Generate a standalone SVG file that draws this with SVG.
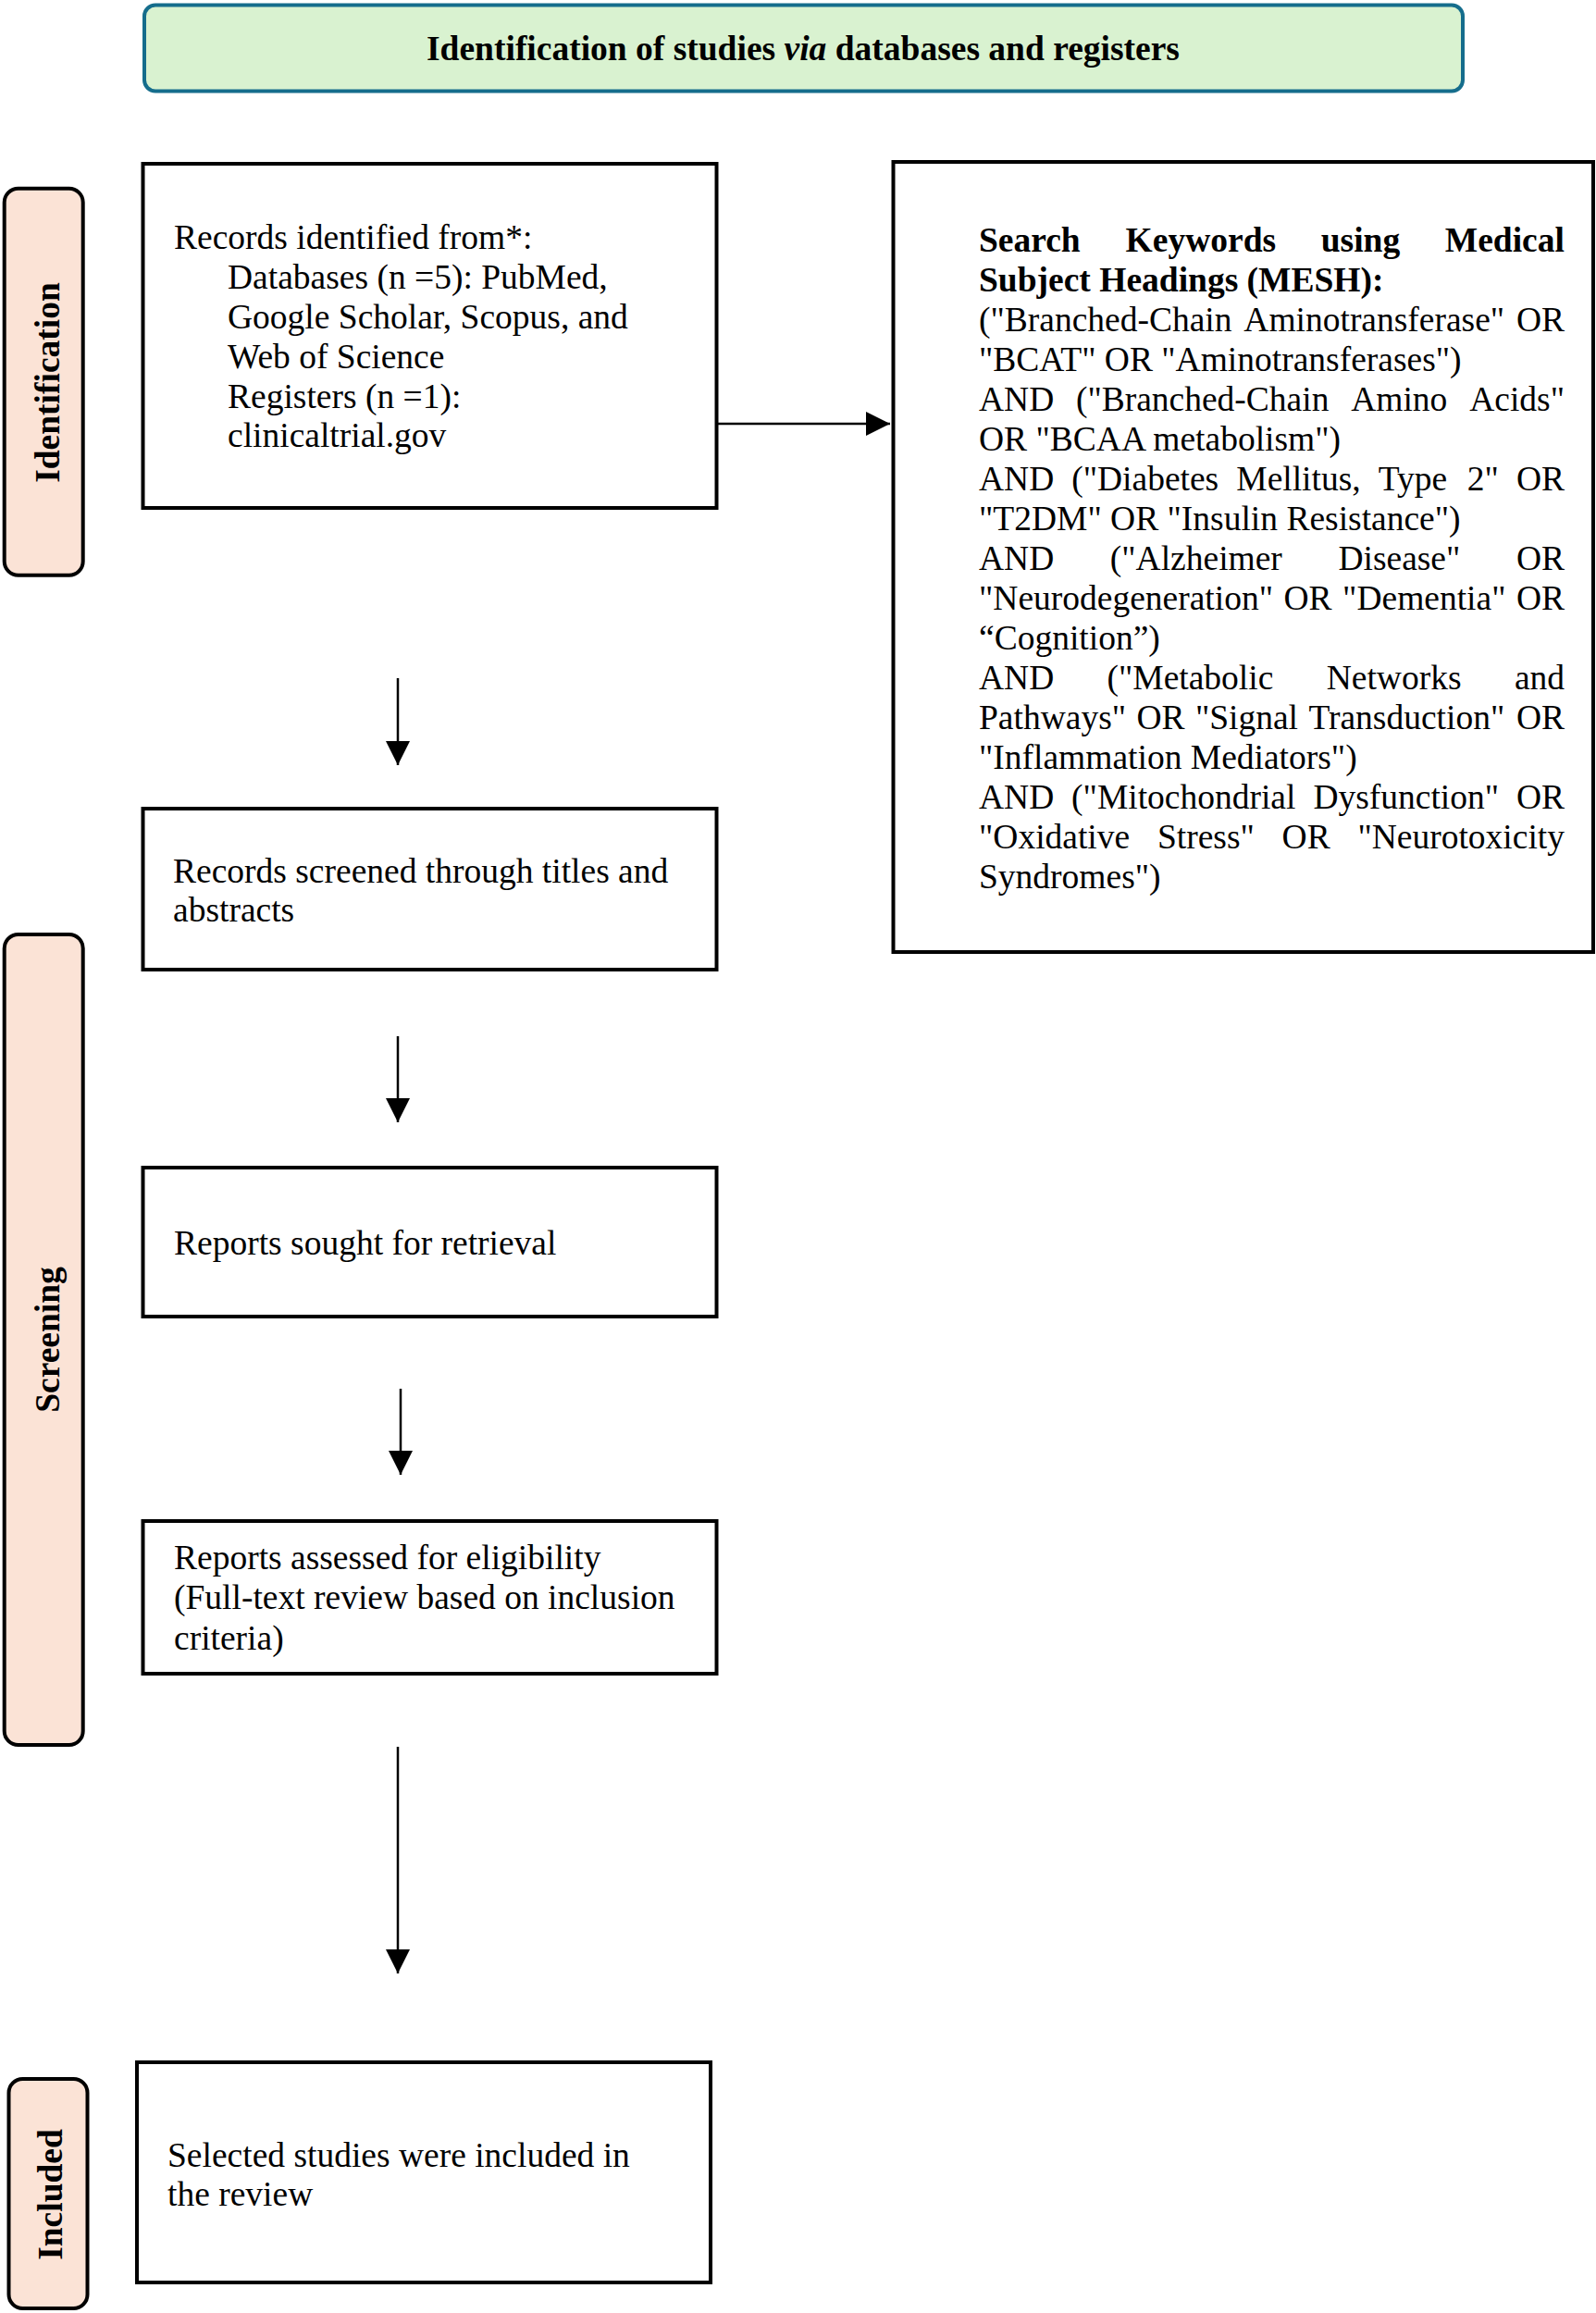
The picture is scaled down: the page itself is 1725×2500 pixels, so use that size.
<svg xmlns="http://www.w3.org/2000/svg" width="1725" height="2500" viewBox="0 0 1725 2500">
<style>
.t{font-family:"Liberation Serif","Times New Roman",serif;font-size:37.5px;fill:#000}
.b{font-weight:bold}
.box{fill:#fff;stroke:#000;stroke-width:4}
.lab{fill:#FBE3D6;stroke:#000;stroke-width:4}
.con{stroke:#000;stroke-width:2.5;fill:none}
</style>
<defs>
<marker id="ah" markerUnits="userSpaceOnUse" markerWidth="26" markerHeight="26" refX="26" refY="13" orient="auto">
<path d="M0,0 L26,13 L0,26 Z" fill="#000"/>
</marker>
</defs>
<rect width="1725" height="2500" fill="#fff"/>

<g id="title">
<rect x="156" y="5.5" width="1425" height="93" rx="12" fill="#D9F2D0" stroke="#156D8C" stroke-width="4"/>
<text class="t b" x="868" y="65" text-anchor="middle">Identification of studies <tspan font-style="italic">via</tspan> databases and registers</text>
</g>

<g id="label-identification">
<rect class="lab" x="4.7" y="203.7" width="85" height="418" rx="15"/>
<text class="t b" transform="translate(63.5,413.5) rotate(-90)" text-anchor="middle">Identification</text>
</g>
<g id="label-screening">
<rect class="lab" x="4.7" y="1010" width="85" height="876" rx="15"/>
<text class="t b" transform="translate(63.5,1448) rotate(-90)" text-anchor="middle">Screening</text>
</g>
<g id="label-included">
<rect class="lab" x="9.5" y="2247" width="85" height="248" rx="15"/>
<text class="t b" transform="translate(67,2372) rotate(-90)" text-anchor="middle">Included</text>
</g>

<g id="records-identified">
<rect class="box" x="154.5" y="177" width="620" height="372"/>
<text class="t" x="188" y="269">Records identified from*:</text>
<text class="t" x="246" y="312">Databases (n =5): PubMed,</text>
<text class="t" x="246" y="355">Google Scholar, Scopus, and</text>
<text class="t" x="246" y="398">Web of Science</text>
<text class="t" x="246" y="441">Registers (n =1):</text>
<text class="t" x="246" y="483">clinicaltrial.gov</text>
</g>

<g id="search-keywords">
<rect class="box" x="965.5" y="175" width="756.5" height="854"/>
<text class="t b" y="271.5"><tspan x="1058">Search </tspan><tspan x="1216.6">Keywords </tspan><tspan x="1427.7">using </tspan><tspan x="1561.8">Medical</tspan></text>
<text class="t b" x="1058" y="314.5">Subject Headings (MESH):</text>
<text class="t" y="357.5"><tspan x="1058">("Branched-Chain </tspan><tspan x="1344.3">Aminotransferase" </tspan><tspan x="1638.9">OR</tspan></text>
<text class="t" x="1058" y="400.5">"BCAT" OR "Aminotransferases")</text>
<text class="t" y="443.5"><tspan x="1058">AND </tspan><tspan x="1162.9">("Branched-Chain </tspan><tspan x="1460.2">Amino </tspan><tspan x="1588.2">Acids"</tspan></text>
<text class="t" x="1058" y="486.5">OR "BCAA metabolism")</text>
<text class="t" y="529.5"><tspan x="1058">AND </tspan><tspan x="1158.2">("Diabetes </tspan><tspan x="1336.3">Mellitus, </tspan><tspan x="1489.7">Type </tspan><tspan x="1585.8">2" </tspan><tspan x="1638.9">OR</tspan></text>
<text class="t" x="1058" y="572.5">"T2DM" OR "Insulin Resistance")</text>
<text class="t" y="615.5"><tspan x="1058">AND </tspan><tspan x="1199.8">("Alzheimer </tspan><tspan x="1446.4">Disease" </tspan><tspan x="1638.9">OR</tspan></text>
<text class="t" y="658.5"><tspan x="1058">"Neurodegeneration" </tspan><tspan x="1387.5">OR </tspan><tspan x="1451.1">"Dementia" </tspan><tspan x="1638.9">OR</tspan></text>
<text class="t" x="1058" y="701.5">“Cognition”)</text>
<text class="t" y="744.5"><tspan x="1058">AND </tspan><tspan x="1196.5">("Metabolic </tspan><tspan x="1433.7">Networks </tspan><tspan x="1636.9">and</tspan></text>
<text class="t" y="787.5"><tspan x="1058">Pathways" </tspan><tspan x="1228.4">OR </tspan><tspan x="1291.9">"Signal </tspan><tspan x="1414.4">Transduction" </tspan><tspan x="1638.9">OR</tspan></text>
<text class="t" x="1058" y="830.5">"Inflammation Mediators")</text>
<text class="t" y="873.5"><tspan x="1058">AND </tspan><tspan x="1158.1">("Mitochondrial </tspan><tspan x="1419.4">Dysfunction" </tspan><tspan x="1638.9">OR</tspan></text>
<text class="t" y="916.5"><tspan x="1058">"Oxidative </tspan><tspan x="1250.9">Stress" </tspan><tspan x="1385.6">OR </tspan><tspan x="1467.4">"Neurotoxicity</tspan></text>
<text class="t" x="1058" y="959.5">Syndromes")</text>
</g>

<g id="records-screened">
<rect class="box" x="154.5" y="874" width="620" height="174"/>
<text class="t" x="187" y="953.5">Records screened through titles and</text>
<text class="t" x="187" y="996">abstracts</text>
</g>

<g id="reports-sought">
<rect class="box" x="154.5" y="1262" width="620" height="161"/>
<text class="t" x="188" y="1355.5">Reports sought for retrieval</text>
</g>

<g id="reports-assessed">
<rect class="box" x="154.5" y="1644" width="620" height="165"/>
<text class="t" x="188" y="1695.5">Reports assessed for eligibility</text>
<text class="t" x="188" y="1739">(Full-text review based on inclusion</text>
<text class="t" x="188" y="1782.5">criteria)</text>
</g>

<g id="included-studies">
<rect class="box" x="148" y="2229" width="620" height="238"/>
<text class="t" x="181" y="2341.5">Selected studies were included in</text>
<text class="t" x="181" y="2383.5">the review</text>
</g>

<g id="connectors">
<line class="con" x1="776" y1="458" x2="962" y2="458" marker-end="url(#ah)"/>
<line class="con" x1="430" y1="733" x2="430" y2="827" marker-end="url(#ah)"/>
<line class="con" x1="430" y1="1120" x2="430" y2="1213" marker-end="url(#ah)"/>
<line class="con" x1="433" y1="1501" x2="433" y2="1594" marker-end="url(#ah)"/>
<line class="con" x1="430" y1="1888" x2="430" y2="2133" marker-end="url(#ah)"/>
</g>
</svg>
